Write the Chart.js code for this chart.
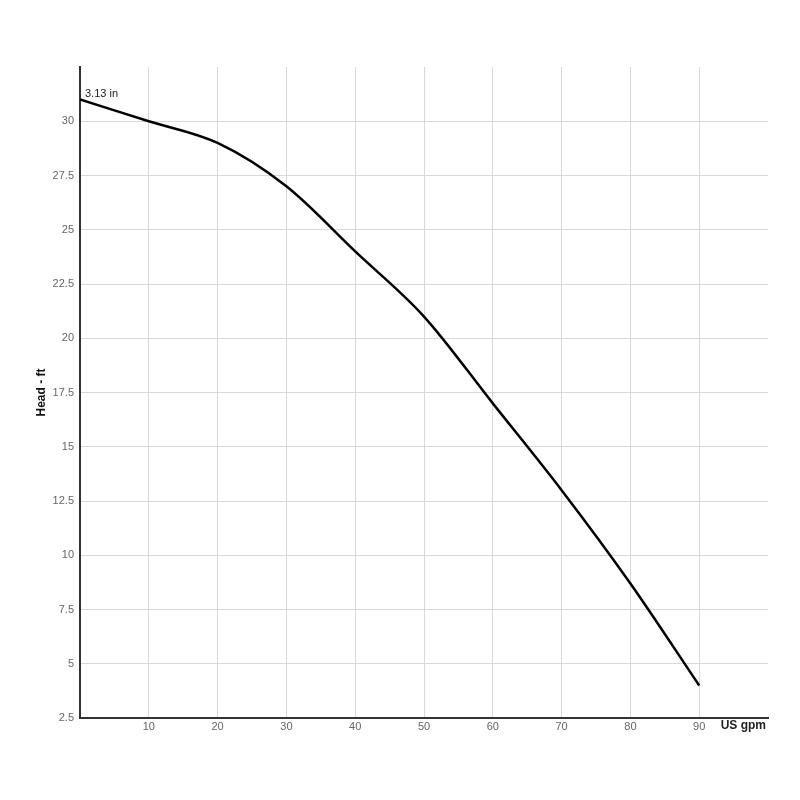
<!DOCTYPE html>
<html>
<head>
<meta charset="utf-8">
<script src="https://cdn.jsdelivr.net/npm/chart.js@4.4.1/dist/chart.umd.min.js"></script>
<style>
html,body{margin:0;padding:0;background:#fff;}
#wrap{width:800px;height:800px;}
</style>
</head>
<body>
<div id="wrap"><canvas id="c" width="800" height="800"></canvas></div>
<script>
const flowGpm = [0, 10, 20, 30, 40, 50, 60, 70, 80, 90];
const headFt = [31, 30, 29, 27, 24, 21, 17, 13, 8.7, 4];
const curveLabel = '3.13 in';
const xTitle = 'US gpm';
const yTitle = 'Head - ft';

const textPlugin = {
  id: 'texts',
  afterDraw(chart) {
    const ctx = chart.ctx;
    const xs = chart.scales.x, ys = chart.scales.y;
    const area = chart.chartArea;
    ctx.save();
    // y title
    ctx.font = 'bold 12px "Liberation Sans", Arial, sans-serif';
    ctx.fillStyle = '#111';
    ctx.textAlign = 'center';
    ctx.textBaseline = 'middle';
    ctx.translate(42, (area.top + area.bottom) / 2);
    ctx.rotate(-Math.PI / 2);
    ctx.fillText(yTitle, 0, 0);
    ctx.restore();
    ctx.save();
    // x title
    ctx.font = 'bold 12px "Liberation Sans", Arial, sans-serif';
    ctx.fillStyle = '#222';
    ctx.textAlign = 'right';
    ctx.textBaseline = 'middle';
    ctx.fillText(xTitle, area.right - 2, area.bottom + 8);
    // curve label
    ctx.font = '11px "Liberation Sans", Arial, sans-serif';
    ctx.fillStyle = '#222';
    ctx.textAlign = 'left';
    ctx.textBaseline = 'bottom';
    ctx.fillText(curveLabel, xs.getPixelForValue(flowGpm[0]) + 5, ys.getPixelForValue(headFt[0]) - 0.5);
    ctx.restore();
  }
};

new Chart(document.getElementById('c'), {
  type: 'line',
  data: {
    datasets: [{
      data: flowGpm.map((x, i) => ({x: x, y: headFt[i]})),
      borderColor: '#000',
      borderWidth: 2.5,
      pointRadius: 0,
      fill: false,
      cubicInterpolationMode: 'monotone'
    }]
  },
  options: {
    responsive: false,
    animation: false,
    devicePixelRatio: 1,
    layout: {padding: {top: 67, right: 32, bottom: 52, left: 0}},
    plugins: {legend: {display: false}, tooltip: {enabled: false}},
    scales: {
      x: {
        type: 'linear',
        min: 0, max: 100,
        afterFit(s) { s.height = 30; },
        ticks: {
          stepSize: 10,
          color: '#666',
          padding: 2,
          font: {family: '"Liberation Sans", Arial, sans-serif', size: 11},
          callback: v => (v === 0 || v === 100) ? '' : String(v)
        },
        grid: {
          color: c => (c.tick && (c.tick.value === 0 || c.tick.value === 100)) ? 'rgba(0,0,0,0)' : '#d9d9d9',
          lineWidth: 1,
          drawTicks: false
        },
        border: {display: true, color: '#333', width: 2}
      },
      y: {
        type: 'linear',
        min: 2.5, max: 32.5,
        afterFit(s) { s.width = 80; },
        ticks: {
          stepSize: 2.5,
          color: '#666',
          padding: 6,
          font: {family: '"Liberation Sans", Arial, sans-serif', size: 11},
          callback: v => (v === 32.5) ? '' : String(v)
        },
        grid: {
          color: c => (c.tick && (c.tick.value === 2.5 || c.tick.value === 32.5)) ? 'rgba(0,0,0,0)' : '#d9d9d9',
          lineWidth: 1,
          drawTicks: false
        },
        border: {display: true, color: '#333', width: 2}
      }
    }
  },
  plugins: [textPlugin]
});
</script>
</body>
</html>
